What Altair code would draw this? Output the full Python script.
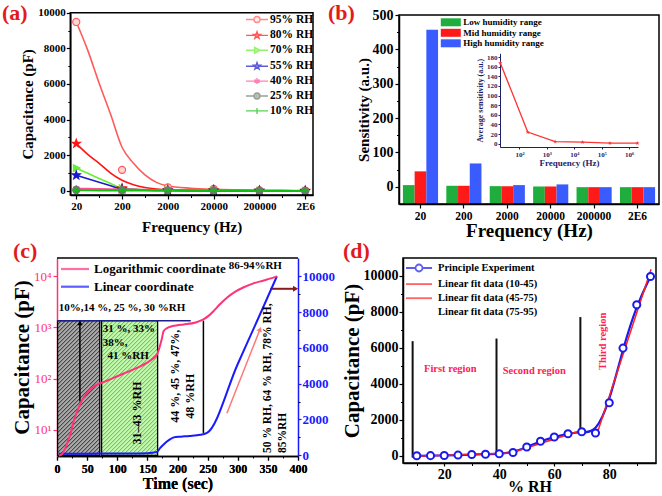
import json
import math
import altair as alt
import pandas as pd

FONT = "Liberation Serif"
PINK = "#ff3377"
BLUE_C = "#1a1aff"
NAVY = "#1f1f66"
RED_TXT = "#ff2255"
LABEL_RED = "#e3191c"
W, H = 662, 496

panel_labels = ["(a)", "(b)", "(c)", "(d)"]

# ---------------- (a) data ----------------
freq_labels = ["20", "200", "2000", "20000", "200000", "2E6"]
a_series = ["95% RH", "80% RH", "70% RH", "55% RH", "40% RH", "25% RH", "10% RH"]
a_line_colors = ["#ff5a5a", "#ff1414", "#66ee33", "#1a1acc", "#ff4d94", "#6e786e", "#10c010"]
a_fill_colors = ["#ffd6d6", "#ff1414", "#66ee33", "#1a1acc", "#ff4d94", "#6e786e", "#10c010"]
a_marker_kinds = ["circle", "star", "tri", "star", "asterisk", "circle", "plus"]
a_pt_x = [0, 1, 2, 3, 4, 5]
a_pt_95 = [9480, 1180, 200, 110, 30, 20]
a_pt_80 = [2650, 150, 40, 60, 20, 10]
a_pt_70 = [1280, 150, 40, 30, 10, 10]
a_pt_55 = [880, 100, 30, 20, 10, 5]
a_pt_40 = [130, 100, 60, 50, 20, 10]
a_pt_25 = [50, 40, 30, 20, 10, 5]
a_pt_10 = [20, 15, 10, 10, 5, 5]
a_fit_x = [0, 0.25, 0.5, 0.75, 1, 1.25, 1.5, 1.75, 2, 2.5, 3, 3.5, 4, 4.5, 5]
a_fit_95 = [9480, 7900, 6040, 4300, 2450, 1550, 900, 480, 280, 150, 90, 60, 40, 30, 20]
a_fit_80 = [2650, 2050, 1550, 1000, 600, 350, 190, 100, 50, 25, 15, 10, 10, 10, 10]
a_fit_70 = [1280, 990, 700, 420, 150, 100, 60, 40, 30, 25, 20, 15, 10, 10, 10]
a_fit_55 = [880, 680, 490, 290, 100, 70, 45, 30, 20, 15, 10, 10, 5, 5, 5]
a_fit_40 = [130, 125, 118, 110, 100, 90, 75, 65, 60, 55, 50, 40, 20, 15, 10]
a_fit_25 = [50, 48, 45, 42, 40, 37, 34, 32, 30, 25, 20, 15, 10, 8, 5]
a_fit_10 = [20, 19, 18, 16, 15, 14, 13, 12, 10, 10, 10, 8, 5, 5, 5]

# ---------------- (b) data ----------------
b_ranges = ["Low humidity range", "Mid humidity range", "High humidity range"]
b_colors = ["#1fae3e", "#ff1a1a", "#3a5cff"]
b_low = [5, 3, 2, 1, -1, -1]
b_mid = [45, 3, 2, 1, -1, -1]
b_high = [457, 68, 5, 7, -1, -1]
inset_freq = [20, 200, 2000, 20000, 200000, 2000000]
inset_sens = [168, 24, 4, 3, 1, 1]

# ---------------- (c) data ----------------
c_t_log = [3, 8, 14, 18, 22, 28, 36, 44, 55, 69, 77, 100, 127, 149, 160, 166, 170, 174, 177,
           182, 188, 200, 210, 230, 243, 252, 260, 270, 282, 296, 310, 325, 343, 355, 365]
c_log = [3.1, 3.3, 4.4, 6, 8, 15, 27, 42, 61, 79, 85, 111, 151, 203, 250, 295, 400, 600, 850,
         960, 1030, 1100, 1140, 1250, 1440, 1700, 2100, 2800, 3800, 5000, 6100, 7200, 8300, 9100, 10000]
c_t_lin = [3, 50, 100, 150, 166, 171, 177, 183, 188, 194, 205, 220, 238, 249, 300, 340, 365]
c_lin = [80, 90, 100, 120, 190, 400, 600, 780, 900, 1000, 1040, 1080, 1150, 1250, 5100, 8100, 10000]
c_box_t0 = [1, 74]
c_box_t1 = [71, 167]
c_box_top = [7520, 7520]
c_box_fill = ["#a9a9a9", "#c6f7ae"]
c_box_hatch = ["#1a1a1a", "#3dbb3d"]
c_hline = [0, 222, 7520]
c_vline = [243, 1250, 7520]
c_up_arrow = [38, 3000, 7400]
c_pink_arrow = [282, 2346, 337, 7039]
c_red_arrow = [354, 396, 9300]
c_leg_labels = ["Logarithmic coordinate", "Linear coordinate"]
c_text_h = ["10%,14 %, 25 %, 30 %RH", "31 %, 33%", "38%,", "41 %RH", "86-94%RH"]
c_text_h_t = [3, 76, 76, 84, 285]
c_text_h_v = [8212, 7056, 6257, 5564, 10560]
c_text_rc = ["31\u201343 %RH", "44 %, 45 %, 47%,", "48 %RH"]
c_text_rc_t = [133, 196, 220]
c_text_rc_v = [2365, 4413, 3300]
c_text_rl = ["50 % RH, 64 % RH, 78% RH,", "85%RH"]
c_text_rl_t = [350, 375]
c_text_rl_v = [130, 130]

# ---------------- (d) data ----------------
d_rh = [10, 15, 20, 25, 30, 35, 40, 45, 50, 55, 60, 65, 70, 75, 80, 85, 90, 95]
d_cap = [0, 10, 20, 40, 70, 90, 110, 180, 490, 810, 1050, 1230, 1340, 1270, 2950, 5990, 8400, 9970]
d_fit_seg = [1, 1, 2, 2, 3, 3]
d_fit_rh = [10, 45, 45, 70, 76, 95.2]
d_fit_cap = [-20, 160, 200, 1420, 1430, 10370]
d_vline_rh = [8.5, 39, 69.5]
d_vline_lo = [-100, 100, 1350]
d_vline_hi = [6377, 6522, 7715]
d_region_text = ["First region", "Second region"]
d_region_rh = [22.2, 52.7]
d_region_cap = [4800, 4700]
d_region3_text = ["Third region"]
d_region3_rh = [77.6]
d_region3_cap = [6370]
d_leg_labels = ["Principle Experiment", "Linear fit data (10-45)", "Linear fit data (45-75)", "Linear fit data (75-95)"]

# ---------------- layout (pixel boxes of the plot areas) ----------------
A_BOX = (70.3, 313, 12.7, 195)
B_BOX = (399, 659, 15, 204)
C_BOX = (57, 298, 258, 456)
D_BOX = (403, 656, 258, 463)
IN_BOX = (500, 638, 53.3, 147)


def xrange(box):
    return [box[0], box[1]]


def yrange(box):
    return [box[3], box[2]]


A_XD, A_YD = [-0.13, 5.17], [-230, 10000]
B_YD = [-50, 500]
C_XD, C_LOGD, C_LIND = [0, 400], [3.05, 22800], [-40, 11020]
D_XD, D_YD = [5, 97], [-400, 11000]

a_xs = alt.Scale(domain=A_XD, range=xrange(A_BOX), nice=False, zero=False)
a_ys = alt.Scale(domain=A_YD, range=yrange(A_BOX), nice=False, zero=False)
b_ys = alt.Scale(domain=B_YD, range=yrange(B_BOX), nice=False, zero=False)
c_xs = alt.Scale(domain=C_XD, range=xrange(C_BOX), nice=False, zero=False)
c_logs = alt.Scale(type="log", domain=C_LOGD, range=yrange(C_BOX), nice=False)
c_lins = alt.Scale(domain=C_LIND, range=yrange(C_BOX), nice=False, zero=False)
d_xs = alt.Scale(domain=D_XD, range=xrange(D_BOX), nice=False, zero=False)
d_ys = alt.Scale(domain=D_YD, range=yrange(D_BOX), nice=False, zero=False)


def marker_path(kind, s=1.0, line=0.0):
    if kind == "circle":
        body = f"M{s:.3f},0A{s:.3f},{s:.3f},0,1,1,{-s:.3f},0A{s:.3f},{s:.3f},0,1,1,{s:.3f},0Z"
        gap = s
    elif kind == "star":
        pts = []
        for k in range(10):
            ang = math.radians(-90 + 36 * k)
            rad = (1.2 if k % 2 == 0 else 0.48) * s
            pts.append(f"{rad * math.cos(ang):.3f},{rad * math.sin(ang):.3f}")
        body = "M" + "L".join(pts) + "Z"
        gap = 0.5 * s
    elif kind == "tri":
        body = f"M{-0.8 * s:.3f},{-0.95 * s:.3f}L{1.05 * s:.3f},0L{-0.8 * s:.3f},{0.95 * s:.3f}Z"
        gap = 0.8 * s
    elif kind == "asterisk":
        c, d = 0.87 * s, 0.5 * s
        body = f"M0,{-s:.3f}V{s:.3f}M{-c:.3f},{-d:.3f}L{c:.3f},{d:.3f}M{-c:.3f},{d:.3f}L{c:.3f},{-d:.3f}"
        gap = 0
    else:
        body = f"M{-s:.3f},0H{s:.3f}M0,{-s:.3f}V{s:.3f}"
        gap = 0
    if line > 0:
        if gap > 0:
            body = f"M{-line:.3f},0H{-gap:.3f}M{gap:.3f},0H{line:.3f}" + body
        else:
            body = f"M{-line:.3f},0H{line:.3f}" + body
    return body


ONE = pd.DataFrame({"z": [0]})


def panel_label(txt, px, py):
    return alt.Chart(pd.DataFrame({"t": [txt]})).mark_text(
        font=FONT, fontSize=22, fontWeight="bold", color=LABEL_RED, align="left", baseline="top"
    ).encode(text="t:N", x=alt.value(px), y=alt.value(py))


def frame(box):
    return alt.Chart(ONE).mark_rect(fill="transparent", stroke="black", strokeWidth=1.5).encode(
        x=alt.value(box[0]), x2=alt.value(box[1]), y=alt.value(box[2]), y2=alt.value(box[3]))


def text_layer(df, xe, ye, angle=0, align="left", color="black", size=13):
    return alt.Chart(df).mark_text(
        font=FONT, fontWeight="bold", fontSize=size, color=color, align=align, baseline="middle", angle=angle
    ).encode(x=xe, y=ye, text="label:N")


def legend(x, y, size, offset, rowpad, **kw):
    return alt.Legend(title=None, orient="none", legendX=x, legendY=y, labelFont=FONT,
                      labelFontSize=size, labelFontWeight="bold", labelColor="black",
                      labelOffset=offset, rowPadding=rowpad, padding=0, symbolSize=100, **kw)


def minor_ticks(xs=None, xo="bottom", xoff=0, xv=None, ys=None, yo="left", yoff=0, yv=None, size=2.5, color="black"):
    ax = dict(labels=False, domain=False, tickSize=size, title="", grid=False, tickColor=color, tickWidth=1)
    enc = {}
    if xv:
        enc["x"] = alt.X("mx:Q", scale=xs, axis=alt.Axis(orient=xo, offset=xoff, values=xv, **ax))
    if yv:
        enc["y"] = alt.Y("my:Q", scale=ys, axis=alt.Axis(orient=yo, offset=yoff, values=yv, **ax))
    return alt.Chart(ONE).transform_filter("false").mark_point(opacity=0).encode(**enc)


SUP = "'10' + ['\u2070','\u00b9','\u00b2','\u00b3','\u2074','\u2075','\u2076'][round(log(datum.value)/LN10)]"

# ================= panel (a) =================
a_x = alt.X("x:Q", scale=a_xs,
            axis=alt.Axis(orient="bottom", offset=A_BOX[3] - H, values=a_pt_x,
                          labelExpr=f"{json.dumps(freq_labels)}[round(datum.value)]",
                          title="Frequency (Hz)", labelFontSize=11, titleFontSize=15, tickSize=4,
                          labelPadding=1, titlePadding=8))
a_y = alt.Y("y:Q", scale=a_ys,
            axis=alt.Axis(orient="left", offset=-A_BOX[0], values=[0, 2000, 4000, 6000, 8000, 10000],
                          format="d", title="Capacitance (pF)", labelFontSize=11, titleFontSize=15,
                          tickSize=4, labelPadding=1, titlePadding=2))
a_fits = [a_fit_95, a_fit_80, a_fit_70, a_fit_55, a_fit_40, a_fit_25, a_fit_10]
a_pts = [a_pt_95, a_pt_80, a_pt_70, a_pt_55, a_pt_40, a_pt_25, a_pt_10]
a_layers = []
for col, fy in zip(a_line_colors, a_fits):
    a_layers.append(alt.Chart(pd.DataFrame({"x": a_fit_x, "y": fy})).mark_line(
        color=col, strokeWidth=1.6, interpolate="monotone").encode(x=a_x, y=a_y))
for col, fc, kind, py in zip(a_line_colors, a_fill_colors, a_marker_kinds, a_pts):
    a_layers.append(alt.Chart(pd.DataFrame({"x": a_pt_x, "y": py})).mark_point(
        shape=marker_path(kind), filled=True, fill=fc, stroke=col, strokeWidth=1.2, size=50, opacity=1
    ).encode(x=a_x, y=a_y))
a_leg_obj = legend(251, 13.5, 11.5, 7, 2.9, symbolStrokeWidth=1.4)
a_leg = alt.Chart(pd.DataFrame({"label": a_series})).transform_filter("false").mark_point(filled=True).encode(
    fill=alt.Fill("label:N", scale=alt.Scale(domain=a_series, range=a_fill_colors), legend=a_leg_obj),
    stroke=alt.Stroke("label:N", scale=alt.Scale(domain=a_series, range=a_line_colors), legend=a_leg_obj),
    shape=alt.Shape("label:N", scale=alt.Scale(domain=a_series,
                    range=[marker_path(k, 0.6, 2.2) for k in a_marker_kinds]), legend=a_leg_obj),
)
panel_a = alt.layer(*a_layers, a_leg)
minor_a = minor_ticks(a_xs, "bottom", A_BOX[3] - H, [0.5, 1.5, 2.5, 3.5, 4.5],
                      a_ys, "left", -A_BOX[0], [1000, 3000, 5000, 7000, 9000])

# ================= panel (b) =================
b_rows = []
for i, f in enumerate(freq_labels):
    for r, vals in zip(b_ranges, [b_low, b_mid, b_high]):
        b_rows.append({"freq": f, "range": r, "value": vals[i]})
b_df = pd.DataFrame(b_rows)
panel_b = alt.Chart(b_df).mark_bar().encode(
    x=alt.X("freq:N", sort=freq_labels,
            scale=alt.Scale(range=xrange(B_BOX), paddingInner=0.19, paddingOuter=0.09),
            axis=alt.Axis(orient="bottom", offset=B_BOX[3] - H, title="Frequency (Hz)", labelAngle=0,
                          labelFontSize=11.5, titleFontSize=19, tickSize=4, labelPadding=2, titlePadding=0)),
    xOffset=alt.XOffset("range:N", sort=b_ranges, scale=alt.Scale(paddingInner=0, paddingOuter=0)),
    y=alt.Y("value:Q", scale=b_ys,
            axis=alt.Axis(orient="left", offset=-B_BOX[0], values=[0, 100, 200, 300, 400, 500],
                          title="Sensitivity (a.u.)", labelFontSize=14, titleFontSize=15, tickSize=4,
                          labelPadding=2, titlePadding=1)),
    y2=alt.datum(-50),
    color=alt.Color("range:N", scale=alt.Scale(domain=b_ranges, range=b_colors),
                    legend=legend(445.8, 17.3, 9, 7.5, 0.5, symbolType="M-2,-0.8H2V0.8H-2Z",
                                  symbolStrokeWidth=0)),
)
minor_b = minor_ticks(ys=b_ys, yo="left", yoff=-B_BOX[0], yv=[50, 150, 250, 350, 450])
inset_df = pd.DataFrame({"f": inset_freq, "s": inset_sens})
in_x = alt.X("f:Q", scale=alt.Scale(type="log", domain=[19.5, 2.1e6], range=xrange(IN_BOX), nice=False),
             axis=alt.Axis(orient="bottom", offset=IN_BOX[3] - H, values=[100, 1000, 10000, 100000, 1000000],
                           labelExpr=SUP, title="Frequency (Hz)", labelFontSize=7, titleFontSize=9,
                           tickSize=2, labelPadding=1, titlePadding=1, labelColor=NAVY, titleColor=NAVY,
                           domainColor=NAVY, tickColor=NAVY, domainWidth=1, tickWidth=1))
in_y = alt.Y("s:Q", scale=alt.Scale(domain=[-7, 188], range=yrange(IN_BOX), nice=False, zero=False),
             axis=alt.Axis(orient="left", offset=-IN_BOX[0], values=list(range(0, 181, 20)),
                           title="Average sensitivity (a.u.)", labelFontSize=7, titleFontSize=8,
                           tickSize=2, labelPadding=1, titlePadding=2, labelColor=NAVY, titleColor=NAVY,
                           domainColor=NAVY, tickColor=NAVY, domainWidth=1, tickWidth=1))
panel_inset = alt.layer(
    alt.Chart(inset_df).mark_line(color="#ff3333", strokeWidth=1.3).encode(x=in_x, y=in_y),
    alt.Chart(inset_df).mark_point(shape=marker_path("star"), filled=True, color="#ff3333", size=14,
                                   opacity=1).encode(x=in_x, y=in_y),
)

# ================= panel (c) =================
c_x = alt.X("t:Q", scale=c_xs,
            axis=alt.Axis(orient="bottom", offset=C_BOX[3] - H, values=list(range(0, 401, 50)),
                          title="Time (sec)", labelFontSize=12, titleFontSize=16, tickSize=4,
                          labelPadding=3, titlePadding=1))
c_ylog = alt.Y("c:Q", scale=c_logs,
               axis=alt.Axis(orient="left", offset=-C_BOX[0], values=[10, 100, 1000, 10000], labelExpr=SUP,
                             labelColor=PINK, labelFontWeight="normal", labelFontSize=13, tickColor=PINK,
                             domainColor=PINK, title="Capacitance (pF)", titleFontSize=21, tickSize=4,
                             labelPadding=2, titlePadding=1))
c_ylin = alt.Y("v:Q", scale=c_lins,
               axis=alt.Axis(orient="right", offset=C_BOX[1] - W, values=[0, 2000, 4000, 6000, 8000, 10000],
                             format="d", labelColor=BLUE_C, tickColor=BLUE_C, domainColor=BLUE_C,
                             labelFontSize=13, title=None, tickSize=3, labelPadding=1))

# hatch pattern of the two boxes: 45-degree lines on screen, every 4 px
px_per_t = (C_BOX[1] - C_BOX[0]) / (C_XD[1] - C_XD[0])
px_per_v = (C_BOX[3] - C_BOX[2]) / (C_LIND[1] - C_LIND[0])
slope = px_per_t / px_per_v
step = 4 / px_per_t


def hatch_rows(t0, t1, v1):
    rows = []
    c = t0 - v1 / slope
    while c < t1:
        ts = max(t0, c)
        te = min(t1, c + v1 / slope)
        if te > ts:
            rows.append({"t": ts, "v": slope * (ts - c), "t2": te, "v2": slope * (te - c)})
        c += step
    return pd.DataFrame(rows)


c_inner_layers = []
for t0, t1, top, fc, hc in zip(c_box_t0, c_box_t1, c_box_top, c_box_fill, c_box_hatch):
    box_df = pd.DataFrame({"t": [t0], "t2": [t1], "v": [0], "v2": [top]})
    c_inner_layers.append(alt.Chart(box_df).mark_rect(fill=fc, opacity=1).encode(
        x=c_x, x2=alt.X2("t2:Q"), y=c_ylin, y2=alt.Y2("v2:Q")))
    c_inner_layers.append(alt.Chart(hatch_rows(t0, t1, top)).mark_rule(color=hc, strokeWidth=0.9).encode(
        x=c_x, x2=alt.X2("t2:Q"), y=c_ylin, y2=alt.Y2("v2:Q")))
    c_inner_layers.append(alt.Chart(box_df).mark_rect(fill="transparent", stroke="black", strokeWidth=1.3).encode(
        x=c_x, x2=alt.X2("t2:Q"), y=c_ylin, y2=alt.Y2("v2:Q")))
c_inner_layers.append(alt.Chart(pd.DataFrame({"t": [c_hline[0]], "t2": [c_hline[1]], "v": [c_hline[2]]})).mark_rule(
    color="#1f1f8c", strokeWidth=1.5).encode(x=c_x, x2=alt.X2("t2:Q"), y=c_ylin))
c_inner_layers.append(alt.Chart(pd.DataFrame({"t": [c_vline[0]], "v": [c_vline[1]], "v2": [c_vline[2]]})).mark_rule(
    color="black", strokeWidth=1.5).encode(x=c_x, y=c_ylin, y2=alt.Y2("v2:Q")))
c_inner_layers.append(alt.Chart(pd.DataFrame({"t": [c_up_arrow[0]], "v": [c_up_arrow[1]], "v2": [c_up_arrow[2]]})).mark_rule(
    color="black", strokeWidth=1.5).encode(x=c_x, y=c_ylin, y2=alt.Y2("v2:Q")))
c_inner_layers.append(alt.Chart(pd.DataFrame({"t": [c_up_arrow[0]], "v": [c_up_arrow[2]]})).mark_point(
    shape="triangle-up", filled=True, color="black", size=30, opacity=1).encode(x=c_x, y=c_ylin))
pdx = (c_pink_arrow[2] - c_pink_arrow[0]) * px_per_t
pdy = (c_pink_arrow[3] - c_pink_arrow[1]) * px_per_v
pink_angle = math.degrees(math.atan2(pdx, pdy))
c_inner_layers.append(alt.Chart(pd.DataFrame({"t": [c_pink_arrow[0]], "v": [c_pink_arrow[1]],
                                              "t2": [c_pink_arrow[2]], "v2": [c_pink_arrow[3]]})).mark_rule(
    color="#ff7777", strokeWidth=1.5).encode(x=c_x, x2=alt.X2("t2:Q"), y=c_ylin, y2=alt.Y2("v2:Q")))
c_inner_layers.append(alt.Chart(pd.DataFrame({"t": [c_pink_arrow[2]], "v": [c_pink_arrow[3]]})).mark_point(
    shape="triangle-up", filled=True, color="#ff7777", size=30, angle=pink_angle, opacity=1).encode(x=c_x, y=c_ylin))
c_inner_layers.append(alt.Chart(pd.DataFrame({"t": [c_red_arrow[0]], "t2": [c_red_arrow[1]], "v": [c_red_arrow[2]]})).mark_rule(
    color="#8b1a1a", strokeWidth=2).encode(x=c_x, x2=alt.X2("t2:Q"), y=c_ylin))
c_inner_layers.append(alt.Chart(pd.DataFrame({"t": [c_red_arrow[1]], "v": [c_red_arrow[2]]})).mark_point(
    shape="triangle-right", filled=True, color="#8b1a1a", size=35, opacity=1).encode(x=c_x, y=c_ylin))
c_inner_layers.append(alt.Chart(pd.DataFrame({"t": c_t_lin, "v": c_lin})).mark_line(
    color=BLUE_C, strokeWidth=2, interpolate="monotone").encode(x=c_x, y=c_ylin))
c_inner_layers.append(text_layer(pd.DataFrame({"t": c_text_h_t, "v": c_text_h_v, "label": c_text_h}), c_x, c_ylin,
                                 size=11))
c_inner_layers.append(text_layer(pd.DataFrame({"t": c_text_rc_t, "v": c_text_rc_v, "label": c_text_rc}), c_x, c_ylin,
                                 angle=270, align="center", size=12))
c_inner_layers.append(text_layer(pd.DataFrame({"t": c_text_rl_t, "v": c_text_rl_v, "label": c_text_rl}), c_x, c_ylin,
                                 angle=270, align="left", size=11.5))
c_inner_layers.append(alt.Chart(pd.DataFrame({"label": c_leg_labels})).transform_filter("false").mark_point(
    filled=False).encode(color=alt.Color("label:N", scale=alt.Scale(domain=c_leg_labels, range=[PINK, BLUE_C]),
                                         legend=legend(68.5, 262.5, 13, 12.5, 3.7, symbolType="M-2.8,0H2.8",
                                                       symbolStrokeWidth=2.2))))
panel_c_inner = alt.layer(*c_inner_layers)
panel_c_pink = alt.Chart(pd.DataFrame({"t": c_t_log, "c": c_log})).mark_line(
    color=PINK, strokeWidth=2, interpolate="monotone").encode(x=c_x, y=c_ylog)
minor_c = minor_ticks(c_xs, "bottom", C_BOX[3] - H, list(range(25, 400, 50)),
                      c_lins, "right", C_BOX[1] - W, [1000, 3000, 5000, 7000, 9000], size=2)

# ================= panel (d) =================
d_x = alt.X("rh:Q", scale=d_xs,
            axis=alt.Axis(orient="bottom", offset=D_BOX[3] - H, values=[20, 40, 60, 80], title="% RH",
                          labelFontSize=14, titleFontSize=16, tickSize=3, labelPadding=1, titlePadding=-3))
d_y = alt.Y("cap:Q", scale=d_ys,
            axis=alt.Axis(orient="left", offset=-D_BOX[0], values=[0, 2000, 4000, 6000, 8000, 10000],
                          format="d", title="Capacitance (pF)", labelFontSize=14, titleFontSize=21,
                          tickSize=4, labelPadding=1, titlePadding=1))
d_leg_obj = legend(413, 262, 10.5, 13, 2.1, symbolStrokeWidth=1.8)
d_paths = ["M-2.6,0H-0.7M0.7,0H2.6" + marker_path("circle", 0.7), "M-2.6,0H2.6", "M-2.6,0H2.6", "M-2.6,0H2.6"]
panel_d = alt.layer(
    alt.Chart(pd.DataFrame({"rh": d_vline_rh, "cap": d_vline_lo, "cap2": d_vline_hi})).mark_rule(
        color="#111111", strokeWidth=2).encode(x=d_x, y=d_y, y2=alt.Y2("cap2:Q")),
    alt.Chart(pd.DataFrame({"rh": d_rh, "cap": d_cap})).mark_line(
        color="#1a1aee", strokeWidth=2.2, interpolate="basis").encode(x=d_x, y=d_y),
    alt.Chart(pd.DataFrame({"rh": d_fit_rh, "cap": d_fit_cap, "seg": d_fit_seg})).mark_line(
        color="#ff2020", strokeWidth=1.5).encode(x=d_x, y=d_y, detail="seg:N"),
    alt.Chart(pd.DataFrame({"rh": d_rh, "cap": d_cap})).mark_point(
        filled=True, fill="white", stroke="#1a1aee", strokeWidth=2, size=50, opacity=1).encode(x=d_x, y=d_y),
    text_layer(pd.DataFrame({"rh": d_region_rh, "cap": d_region_cap, "label": d_region_text}), d_x, d_y,
               align="center", color=RED_TXT, size=10.5),
    text_layer(pd.DataFrame({"rh": d_region3_rh, "cap": d_region3_cap, "label": d_region3_text}), d_x, d_y,
               angle=270, align="center", color=RED_TXT, size=10.5),
    alt.Chart(pd.DataFrame({"label": d_leg_labels})).transform_filter("false").mark_point(filled=True).encode(
        fill=alt.Fill("label:N", scale=alt.Scale(domain=d_leg_labels,
                                                 range=["white", "#ff2020", "#ff2020", "white"]), legend=d_leg_obj),
        stroke=alt.Stroke("label:N", scale=alt.Scale(domain=d_leg_labels,
                                                     range=["#1a1aee", "#ff2020", "#ff2020", "white"]), legend=d_leg_obj),
        shape=alt.Shape("label:N", scale=alt.Scale(domain=d_leg_labels, range=d_paths), legend=d_leg_obj),
    ),
)
minor_d = minor_ticks(d_xs, "bottom", D_BOX[3] - H, [10, 30, 50, 70, 90],
                      d_ys, "left", -D_BOX[0], [1000, 3000, 5000, 7000, 9000])

# ================= frames and panel labels =================
c_top_rule = alt.Chart(ONE).mark_rule(color="black", strokeWidth=1.5).encode(
    x=alt.value(C_BOX[0]), x2=alt.value(C_BOX[1]), y=alt.value(C_BOX[2]))
decor = [frame(A_BOX), frame(B_BOX), frame(D_BOX), c_top_rule,
         panel_label(panel_labels[0], 2, 3), panel_label(panel_labels[1], 328, 3),
         panel_label(panel_labels[2], 13, 241), panel_label(panel_labels[3], 343, 241)]

IND = dict(x="independent", y="independent", color="independent", fill="independent",
           stroke="independent", shape="independent")
chart = alt.layer(panel_a, minor_a, panel_b, minor_b, panel_inset, panel_c_inner, panel_c_pink, minor_c,
                  panel_d, minor_d, *decor).resolve_scale(
    **IND).resolve_axis(x="independent", y="independent").resolve_legend(
    color="independent", fill="independent", stroke="independent", shape="independent").properties(
    width=W, height=H, padding=0, autosize=alt.AutoSizeParams(type="none")
).configure_axis(
    labelFont=FONT, titleFont=FONT, labelFontWeight="bold", titleFontWeight="bold",
    labelColor="black", titleColor="black", domainColor="black", tickColor="black",
    grid=False, domainWidth=1.5, tickWidth=1.2, labelOverlap=False, labelFlush=False
).configure_view(stroke="transparent")

chart.save("out.html", embed_options={"renderer": "svg", "actions": False})
